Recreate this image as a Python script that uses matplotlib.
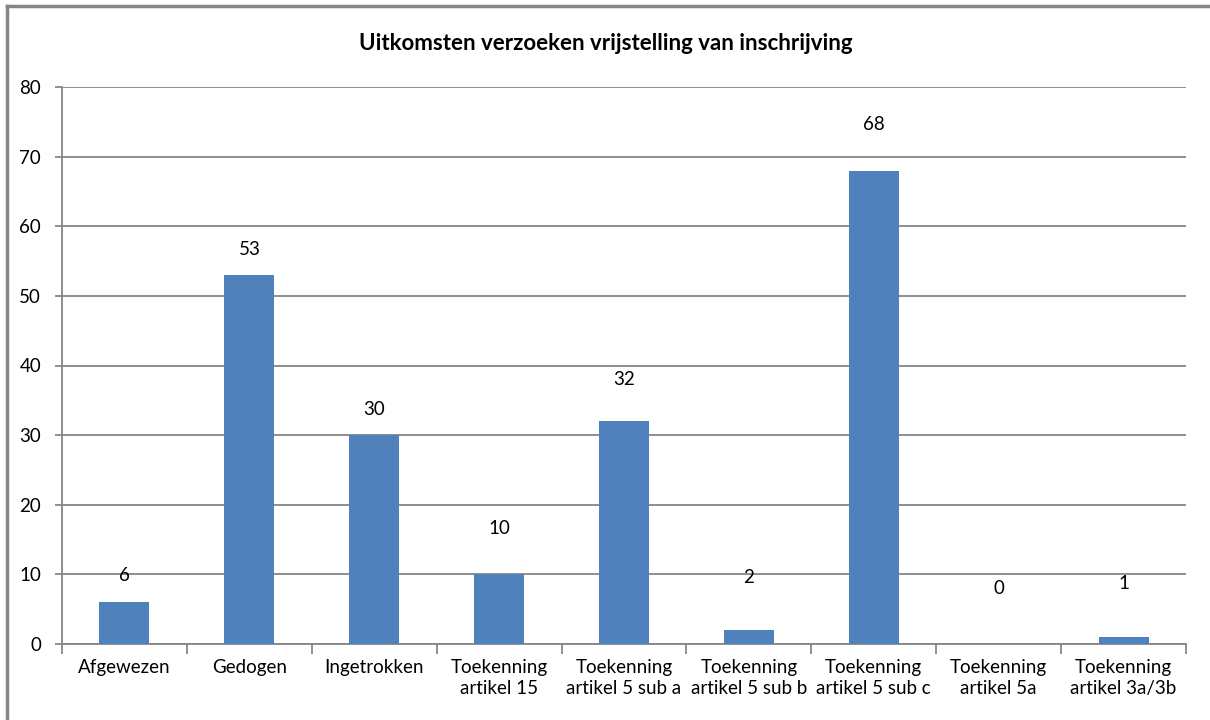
import matplotlib.pyplot as plt
from matplotlib.lines import Line2D

plt.rcParams['font.family'] = ['Lato', 'DejaVu Sans']

# gegevens
categories = ['Afgewezen', 'Gedogen', 'Ingetrokken', 'Toekenning\nartikel 15',
              'Toekenning\nartikel 5 sub a', 'Toekenning\nartikel 5 sub b',
              'Toekenning\nartikel 5 sub c', 'Toekenning\nartikel 5a',
              'Toekenning\nartikel 3a/3b']
values = [6, 53, 30, 10, 32, 2, 68, 0, 1]
title = 'Uitkomsten verzoeken vrijstelling van inschrijving'

# afstand label boven balk (pixels), zoals in het origineel
label_gap = [27, 25, 26, 46, 42, 53, 46, 56, 54]

grey = '#868686'
blue = '#4F81BD'

fig = plt.figure(figsize=(12.1, 7.2), dpi=100)
W, H = 1210, 720
ax = fig.add_axes([62 / W, 1 - 644 / H, (1186 - 62) / W, (644 - 87) / H])

x = range(len(categories))
ax.bar(x, values, width=0.4, color=blue, zorder=3)

for i, v in enumerate(values):
    ax.annotate(str(v), (i, v), xytext=(0, label_gap[i] * 0.72),
                textcoords='offset points', ha='center', va='center',
                fontsize=13.5, color='#000000')

ax.set_xlim(-0.5, len(categories) - 0.5)
ax.set_ylim(0, 80)
ax.set_yticks(range(0, 81, 10))
ax.yaxis.grid(True, color=grey, linewidth=1.3, zorder=0)
ax.set_axisbelow(True)

ax.set_xticks(x)
ax.set_xticklabels(categories, fontsize=13.5, linespacing=1.25)
ax.set_xticks([i - 0.5 for i in range(len(categories) + 1)], minor=True)
ax.tick_params(axis='x', which='major', length=0, pad=11)
ax.tick_params(axis='x', which='minor', length=7, width=1.3, color=grey)
ax.tick_params(axis='y', length=5, width=1.3, color=grey, labelsize=13.5, pad=10)

for side in ['top', 'right']:
    ax.spines[side].set_visible(False)
for side in ['left', 'bottom']:
    ax.spines[side].set_color(grey)
    ax.spines[side].set_linewidth(1.3)

fig.text(606 / W, 1 - 43 / H, title, ha='center', va='center',
         fontsize=16, fontweight='bold')

# rand om de grafiek
fig.add_artist(Line2D([7 / W, 7 / W], [0, 1 - 6 / H], color=grey, linewidth=2.5))
fig.add_artist(Line2D([7 / W, 1], [1 - 6 / H, 1 - 6 / H], color=grey, linewidth=2.5))

fig.savefig('out.png', dpi=100)
